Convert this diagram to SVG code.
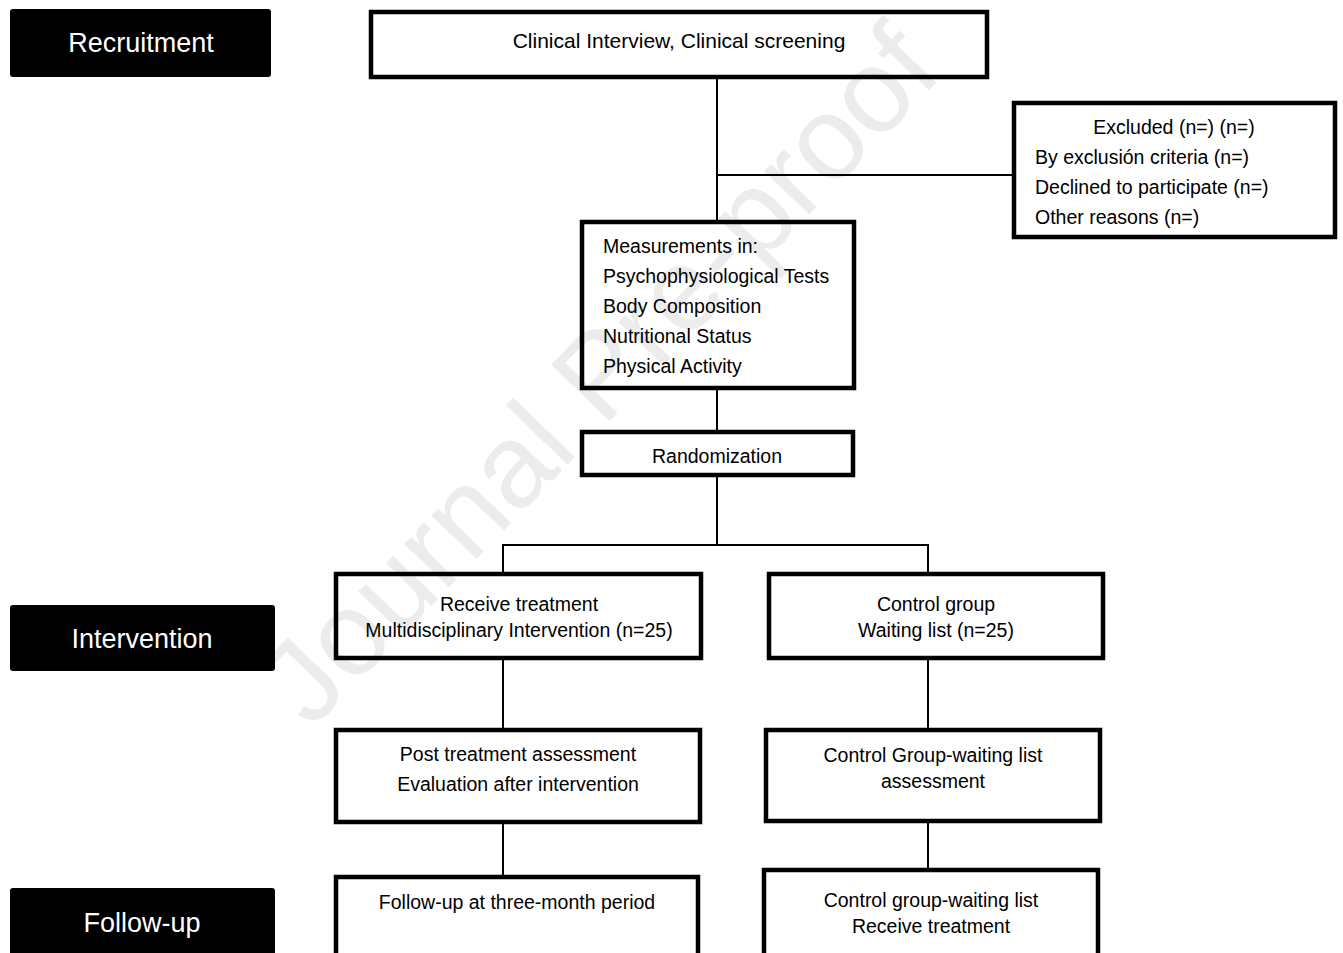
<svg xmlns="http://www.w3.org/2000/svg" width="1343" height="953" viewBox="0 0 1343 953">
<style>
text{font-family:"Liberation Sans",Arial,sans-serif;fill:#000}
.lbl rect{fill:#000}
.lbl text{fill:#fff;font-size:27px;text-anchor:middle}
.box rect{fill:none;stroke:#000;stroke-width:4.5}
.box text{font-size:19.5px}
.c{text-anchor:middle}
#connectors line{stroke:#000;stroke-width:2}
.wm{font-size:118px;fill:#ececec;text-anchor:middle}
</style>
<rect x="0" y="0" width="1343" height="953" fill="#fff"/>
<text class="wm" transform="translate(628,402) rotate(-46)">Journal Pre-proof</text>

<g id="label-recruitment" class="lbl"><rect x="10" y="9" width="261" height="68" rx="3"/><text x="141" y="52">Recruitment</text></g>
<g id="label-intervention" class="lbl"><rect x="10" y="605" width="265" height="66" rx="3"/><text x="142" y="648">Intervention</text></g>
<g id="label-followup" class="lbl"><rect x="10" y="888" width="265" height="70" rx="3"/><text x="142" y="932">Follow-up</text></g>

<g id="connectors">
<line x1="717" y1="79" x2="717" y2="220"/>
<line x1="716" y1="175" x2="1012" y2="175"/>
<line x1="717" y1="390" x2="717" y2="430"/>
<line x1="717" y1="477" x2="717" y2="545"/>
<line x1="502" y1="545" x2="929" y2="545"/>
<line x1="503" y1="544" x2="503" y2="572"/>
<line x1="928" y1="544" x2="928" y2="572"/>
<line x1="503" y1="660" x2="503" y2="728"/>
<line x1="928" y1="660" x2="928" y2="728"/>
<line x1="503" y1="824" x2="503" y2="875"/>
<line x1="928" y1="823" x2="928" y2="868"/>
</g>

<g id="clinical" class="box"><rect x="371" y="12" width="616" height="65"/><text class="c" x="679" y="48" style="font-size:21px">Clinical Interview, Clinical screening</text></g>

<g id="excluded" class="box"><rect x="1014" y="103" width="321" height="134"/>
<text class="c" x="1174" y="134">Excluded (n=) (n=)</text>
<text x="1035" y="164">By exclusión criteria (n=)</text>
<text x="1035" y="194">Declined to participate (n=)</text>
<text x="1035" y="224">Other reasons (n=)</text></g>

<g id="measurements" class="box"><rect x="582" y="222" width="272" height="166"/>
<text x="603" y="253">Measurements in:</text>
<text x="603" y="283">Psychophysiological Tests</text>
<text x="603" y="313">Body Composition</text>
<text x="603" y="343">Nutritional Status</text>
<text x="603" y="373">Physical Activity</text></g>

<g id="randomization" class="box"><rect x="582" y="432" width="271" height="43"/><text class="c" x="717" y="463">Randomization</text></g>

<g id="treatment" class="box"><rect x="336" y="574" width="365" height="84"/>
<text class="c" x="519" y="611">Receive treatment</text>
<text class="c" x="519" y="637">Multidisciplinary Intervention (n=25)</text></g>

<g id="control" class="box"><rect x="769" y="574" width="334" height="84"/>
<text class="c" x="936" y="611">Control group</text>
<text class="c" x="936" y="637">Waiting list (n=25)</text></g>

<g id="post" class="box"><rect x="336" y="730" width="364" height="92"/>
<text class="c" x="518" y="761">Post treatment assessment</text>
<text class="c" x="518" y="791">Evaluation after intervention</text></g>

<g id="control-assessment" class="box"><rect x="766" y="730" width="334" height="91"/>
<text class="c" x="933" y="762">Control Group-waiting list</text>
<text class="c" x="933" y="788">assessment</text></g>

<g id="followup" class="box"><rect x="336" y="877" width="362" height="90"/>
<text class="c" x="517" y="909">Follow-up at three-month period</text></g>

<g id="control-treatment" class="box"><rect x="764" y="870" width="334" height="97"/>
<text class="c" x="931" y="907">Control group-waiting list</text>
<text class="c" x="931" y="933">Receive treatment</text></g>
</svg>
